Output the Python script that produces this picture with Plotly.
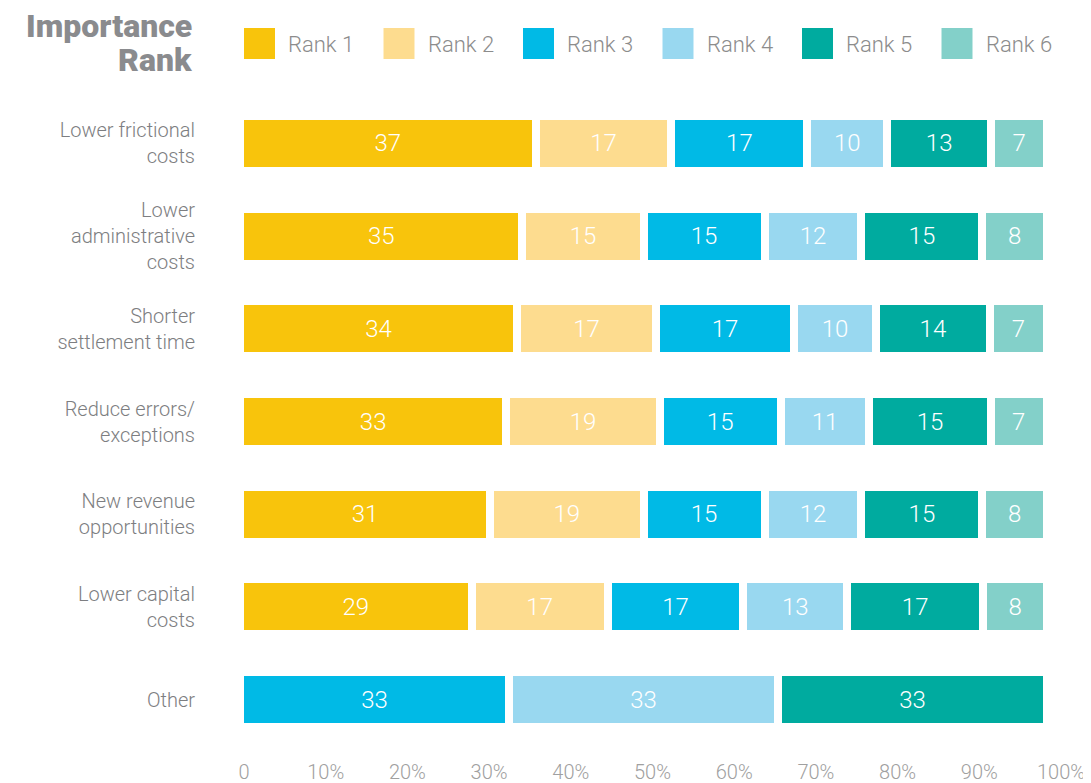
import plotly.graph_objects as go

# ---------------- data ----------------
categories = [
    "Lower frictional<br>costs",
    "Lower<br>administrative<br>costs",
    "Shorter<br>settlement time",
    "Reduce errors/<br>exceptions",
    "New revenue<br>opportunities",
    "Lower capital<br>costs",
    "Other",
]
rank_names = ["Rank 1", "Rank 2", "Rank 3", "Rank 4", "Rank 5", "Rank 6"]
rank1 = [37, 35, 34, 33, 31, 29, None]
rank2 = [17, 15, 17, 19, 19, 17, None]
rank3 = [17, 15, 17, 15, 15, 17, 33]
rank4 = [10, 12, 10, 11, 12, 13, 33]
rank5 = [13, 15, 14, 15, 15, 17, 33]
rank6 = [7, 8, 7, 7, 8, 8, None]
rank_colors = ["#F8C40C", "#FDDC8F", "#00BAE6", "#99D8F0", "#00AB9F", "#83D0C9"]
x_tick_vals = [0, 10, 20, 30, 40, 50, 60, 70, 80, 90, 100]
x_tick_text = ["0", "10%", "20%", "30%", "40%", "50%", "60%", "70%", "80%", "90%", "100%"]
title_lines = ["Importance", "Rank"]

series = [rank1, rank2, rank3, rank4, rank5, rank6]

# ---------------- layout geometry ----------------
OFF = 8  # page body margin
W, H = 1091 - OFF, 783 - OFF
PLOT_L, PLOT_R = 240, 1075        # plot area in page pixels
BAR_END = 1047                    # where a full (100%) stack ends
TICK0, TICK100 = 244, 1061        # where the 0 and 100% tick labels sit
ML, MR, MT, MB = PLOT_L - OFF, W - (PLOT_R - OFF), 97 - OFF, 37
PW, PH = W - ML - MR, H - MT - MB

x_range = [0, 100 * (PLOT_R - PLOT_L) / (BAR_END - PLOT_L)]
tick_scale = (TICK100 - TICK0) / 100.0
x2_range = [(PLOT_L - TICK0) / tick_scale, (PLOT_R - TICK0) / tick_scale]


def px_x(px):
    return (px - OFF - ML) / PW


def px_y(py):
    return 1 - (py - OFF - MT) / PH


FONT = "Roboto, Noto Sans, sans-serif"

fig = go.Figure()
for name, vals, col in zip(rank_names, series, rank_colors):
    fig.add_trace(go.Bar(
        name=name,
        y=categories,
        x=vals,
        orientation="h",
        marker=dict(color=col, line=dict(color="white", width=8)),
        text=[("" if v is None else str(v)) for v in vals],
        texttemplate="%{text}",
        textposition="inside",
        insidetextanchor="middle",
        textangle=0,
        insidetextfont=dict(color="white", size=24, family=FONT, weight=300),
        showlegend=False,
        hoverinfo="skip",
    ))

# empty helper trace so that the percentage tick axis is drawn
fig.add_trace(go.Scatter(x=[], y=[], xaxis="x2", yaxis="y", mode="markers",
                         showlegend=False, hoverinfo="skip"))

shapes = []
annotations = []
# manual legend
for i, (name, col) in enumerate(zip(rank_names, rank_colors)):
    left = 244 + i * 139.5
    shapes.append(dict(
        type="rect", xref="paper", yref="paper",
        x0=px_x(left), x1=px_x(left + 31), y0=px_y(59), y1=px_y(28),
        fillcolor=col, line=dict(width=0),
    ))
    annotations.append(dict(
        xref="paper", yref="paper", x=px_x(left + 42), y=px_y(44),
        xanchor="left", yanchor="middle", showarrow=False,
        text=name, font=dict(family=FONT, size=22, color="#8C8C8C", weight=300),
    ))

for j, line in enumerate(title_lines):
    annotations.append(dict(
        xref="paper", yref="paper", x=px_x(194), y=px_y(26 + j * 34),
        xanchor="right", yanchor="middle", align="right", valign="middle",
        showarrow=False,
        text=line,
        font=dict(family=FONT, size=32, color="#8A8B8E", weight=900),
    ))

fig.update_layout(
    width=W, height=H, autosize=False,
    margin=dict(l=ML, r=MR, t=MT, b=MB, autoexpand=False),
    barmode="stack", barnorm="percent", bargap=0.407,
    plot_bgcolor="white", paper_bgcolor="white",
    shapes=shapes, annotations=annotations,
    xaxis=dict(
        range=x_range, showticklabels=False,
        showgrid=False, zeroline=False, showline=False, ticks="",
        fixedrange=True, automargin=False,
    ),
    xaxis2=dict(
        overlaying="x", anchor="y", side="bottom", range=x2_range,
        tickvals=x_tick_vals, ticktext=x_tick_text,
        showgrid=False, zeroline=False, showline=False, ticks="",
        tickfont=dict(family=FONT, size=20, color="#A0A0A0", weight=300),
        ticklabelstandoff=12, fixedrange=True, automargin=False,
    ),
    yaxis=dict(
        autorange="reversed", showgrid=False, zeroline=False, showline=False,
        ticks="", ticklabelstandoff=44, automargin=False,
        tickfont=dict(family=FONT, size=20, color="#7D7E81", weight=300),
        fixedrange=True,
    ),
)

fig.write_html("out.html")
